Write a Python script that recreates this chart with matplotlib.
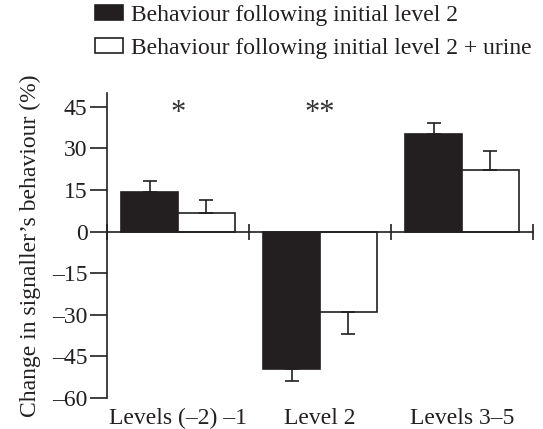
import matplotlib
matplotlib.use('Agg')
import matplotlib.pyplot as plt
from matplotlib.patches import Patch

plt.rcParams['font.family'] = ['Liberation Serif', 'DejaVu Serif']

# 数値データ
groups = ['Levels (–2) –1', 'Level 2', 'Levels 3–5']
initial = [14.4, -49.5, 35.1]
initial_err = [3.9, 4.5, 4.2]
urine = [6.7, -29.0, 22.2]
urine_err = [4.7, 7.8, 6.8]
stars = ['*', '**', '']
series_labels = ['Behaviour following initial level 2',
                 'Behaviour following initial level 2 + urine']

dark = '#231f20'
fs = 17

fig = plt.figure(figsize=(5.43, 4.29), dpi=100)
ax = fig.add_axes([0.197, 0.0723, 0.7847, 0.7109])

w = 0.4
x = list(range(len(groups)))
x_init = [i + 0.1 + w / 2 for i in x]
x_urine = [i + 0.5 + w / 2 for i in x]

ax.bar(x_init, initial, width=w, color=dark, edgecolor=dark, linewidth=1.2)
ax.bar(x_urine, urine, width=w, color='white', edgecolor=dark, linewidth=1.2)

# 誤差棒は0から離れる方向だけ
def one_sided(vals, errs):
    lo = [e if v < 0 else 0 for v, e in zip(vals, errs)]
    hi = [e if v >= 0 else 0 for v, e in zip(vals, errs)]
    return [lo, hi]

ax.errorbar(x_init, initial, yerr=one_sided(initial, initial_err), fmt='none',
            ecolor=dark, elinewidth=1.2, capsize=5, capthick=1.2)
ax.errorbar(x_urine, urine, yerr=one_sided(urine, urine_err), fmt='none',
            ecolor=dark, elinewidth=1.2, capsize=5, capthick=1.2)

for i, s in enumerate(stars):
    if s:
        ax.text(i + 0.5, 42.5, s, ha='center', va='center', fontsize=22,
                color='#333333')

ax.set_xlim(0, 3)
ax.set_ylim(-60, 50)
ax.set_yticks([45, 30, 15, 0, -15, -30, -45, -60])
ax.set_yticklabels(['45', '30', '15', '0', '–15', '–30', '–45', '–60'])
ax.set_xticks([0, 1, 2, 3])
ax.set_xticklabels([])

for side in ['top', 'right']:
    ax.spines[side].set_visible(False)
ax.spines['bottom'].set_position(('data', 0))
for side in ['bottom', 'left']:
    ax.spines[side].set_linewidth(1.2)
    ax.spines[side].set_color(dark)
ax.tick_params(axis='y', direction='out', length=12, width=1.2, labelsize=fs,
               pad=2, colors=dark)
ax.tick_params(axis='x', direction='inout', length=12, width=1.2, colors=dark)

# グループ名は軸の下に置く
for i, g in enumerate(groups):
    ax.annotate(g, xy=(i + 0.5, -60), xytext=(0, -15), textcoords='offset points',
                ha='center', va='center', fontsize=fs, color=dark)

ax.set_ylabel("Change in signaller’s behaviour (%)", fontsize=fs, labelpad=8,
              color=dark)

handles = [Patch(facecolor=dark, edgecolor=dark, linewidth=1.2),
           Patch(facecolor='white', edgecolor=dark, linewidth=1.2)]
fig.legend(handles, series_labels, loc='upper left', bbox_to_anchor=(0.167, 1.0),
           frameon=False, fontsize=fs, handlelength=1.15, handleheight=0.64,
           handletextpad=0.34, labelspacing=0.5, borderaxespad=0.0,
           borderpad=0.2, labelcolor=dark)

fig.savefig('out.png', dpi=100)
